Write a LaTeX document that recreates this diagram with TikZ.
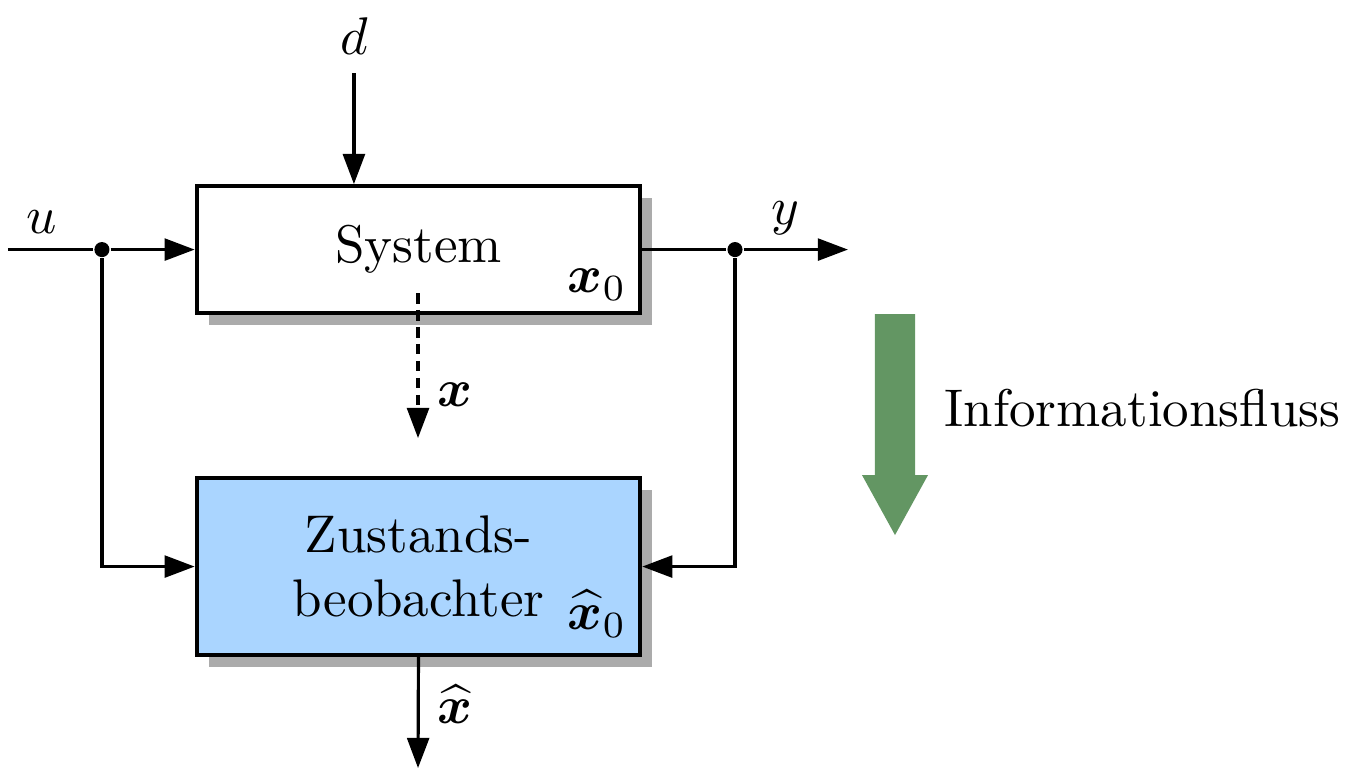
\documentclass[tikz,border=0pt]{standalone}
\usepackage{amsmath}
\usepackage{bm}
\usetikzlibrary{arrows.meta,shadows}
\definecolor{obsblue}{RGB}{170,213,255}
\definecolor{flowgreen}{RGB}{99,150,99}
\begin{document}
\begin{tikzpicture}[>={Triangle[length=2mm,width=1.45mm]},
  block/.style={draw, thick, rectangle, minimum width=2.94cm, fill=white,
    general shadow={fill=black!33, shadow xshift=0.08cm, shadow yshift=-0.08cm}},
  knot/.style={circle, fill, inner sep=0pt, minimum size=0.1cm}]
\useasboundingbox (0,0) rectangle (9.065,5.10);
% blocks
\node[block, minimum height=0.84cm] (sys) at (2.775,3.445) {System};
\node[block, fill=obsblue, minimum height=1.17cm, align=center] (obs) at (2.775,1.343) {Zustands-\\beobachter};
\node at (3.96,3.210) {$\bm{x}_0$};
\node at (3.96,1.03) {$\widehat{\bm{x}}_0$};
% signals
\coordinate (uin) at (0.053,3.445);
\node[knot] (ku) at (0.676,3.445) {};
\node[knot] (ky) at (4.874,3.445) {};
\coordinate (yout) at (5.623,3.445);
\node (u) at (0.279,3.627) {$u$};
\node (y) at (5.206,3.654) {$y$};
\node (d) at (2.347,4.86) {$d$};
\draw[semithick] (uin) -- (ku);
\draw[->, semithick] (ku) -- (sys.west);
\draw[->, semithick] (ku) |- (obs.west);
\draw[semithick] (sys.east) -- (ky);
\draw[->, semithick] (ky) -- (yout);
\draw[->, semithick] (ky) |- (obs.east);
\draw[->, semithick] (d) -- (d |- sys.north);
% state
\coordinate (xs) at (2.772,3.157);
\coordinate (xe) at (2.772,2.195);
\coordinate (xh) at (2.772,0.007);
\draw[->, semithick, dash pattern=on 2pt off 1.2pt] (xs) -- (xe);
\draw[->, semithick] (obs.south) -- (xh);
\node (x) at (3.017,2.480) {$\bm{x}$};
\node (xhat) at (3.017,0.43) {$\widehat{\bm{x}}$};
% direction of information flow
\fill[flowgreen] (5.802,3.017) -- (6.068,3.017) -- (6.068,1.950) -- (6.154,1.950)
  -- (5.935,1.552) -- (5.716,1.950) -- (5.802,1.950) -- cycle;
\node[anchor=west] (flow) at (6.14,2.394) {Informationsfluss};
\end{tikzpicture}
\end{document}
